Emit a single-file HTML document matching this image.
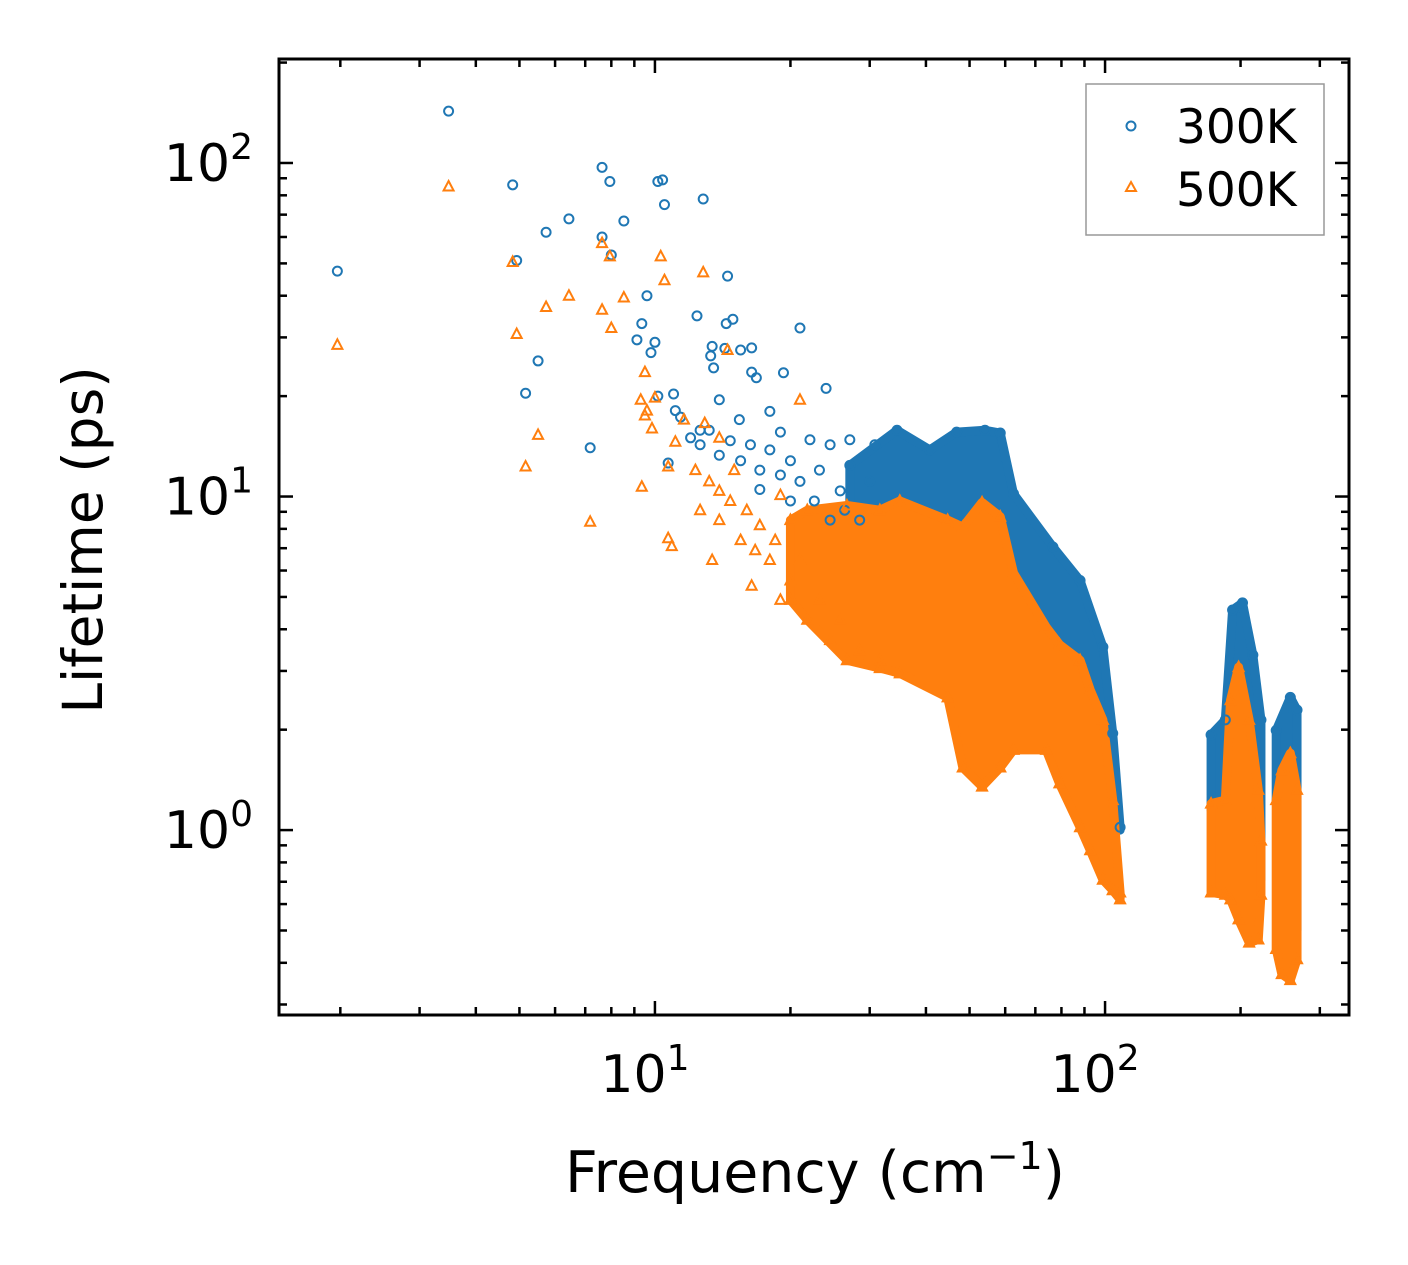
<!DOCTYPE html>
<html><head><meta charset="utf-8"><style>
html,body{margin:0;padding:0;background:#fff}
svg{display:block;font-family:"DejaVu Sans","Liberation Sans",sans-serif}
</style></head><body>
<svg id="chart" width="1408" height="1265" viewBox="0 0 1408 1265" xmlns="http://www.w3.org/2000/svg">
<rect x="0" y="0" width="1408" height="1265" fill="#fff"/>
<g id="bands"></g>
<g id="marks"></g>
<g id="axes"></g>
<g>
<rect x="1086" y="84" width="238" height="151" fill="#fff" fill-opacity="0.8" stroke="#999" stroke-width="1.5"/>
<circle cx="1131" cy="126" r="4.5" fill="none" stroke="#1f77b4" stroke-width="2"/>
<text x="1176" y="143" font-size="47">300K</text>
<polygon points="1131,182 1136,191 1126,191" fill="none" stroke="#ff7f0e" stroke-width="2"/>
<text x="1176" y="206" font-size="47">500K</text>
</g>
<text x="815" y="1192" font-size="57" text-anchor="middle">Frequency (cm<tspan dy="-23" font-size="38">−1</tspan><tspan dy="23">)</tspan></text>
<text transform="translate(102,540) rotate(-90)" font-size="55" text-anchor="middle">Lifetime (ps)</text>
</svg>
<script>
const blueF=[1.97,3.48,4.83,4.93,5.16,5.5,5.73,6.44,7.18,7.63,7.94,8.0,7.63,8.53,9.12,9.35,9.6,9.8,10,10.15,10.4,10.5,10.15,10.7,11.0,11.1,11.4,12.4,12.8,13.3,13.5,13.4,14.3,14.5,14.4,14.9,15.5,16.4,16.4,16.8,21,24,19.3,18,19,13.9,15.4,12,12.6,
12.6,13.2,13.9,14.7,15.5,16.3,17.1,18,19,20,21,22.1,23.2,24.5,25.8,22.6,24.5,26.4,17.1,20,27.1,30.8,30,28.5];
const blueL=[47.4,143,86,51,20.4,25.5,62,68,14,97,88,53,60,67,29.5,33,40,27,29,88,89,75,20,12.6,20.3,18.1,17.3,34.8,78,26.4,24.3,28.2,27.8,45.8,33,34,27.5,27.9,23.6,22.7,32,21.1,23.5,18,15.6,19.5,17,15,15.8,
14.3,15.8,13.3,14.7,12.8,14.3,12.0,13.8,11.6,12.8,11.1,14.8,12.0,14.3,10.4,9.7,8.5,9.1,10.5,9.7,14.8,14.3,11.1,8.5];
const orangeF=[1.97,3.48,4.83,4.93,5.16,5.5,5.73,6.44,7.18,7.63,7.94,8.0,7.63,8.53,9.3,9.5,9.6,9.85,9.35,9.5,10.3,10.5,10.7,10.7,10.9,11.1,11.6,12.8,13.4,12.9,13.9,14.5,13.9,16.4,21,19,10,
12.3,12.6,13.2,13.9,14.7,15.5,16,16.7,17.1,18,18.5,20,21,23.2,25.8,24.5,28.5,31.6,15,19];
const orangeL=[28.5,85,50.5,30.7,12.3,15.3,37,40,8.4,57.5,52.5,32,36.3,39.5,19.5,17.5,18.1,16,10.7,23.6,52.5,44.5,12.3,7.5,7.1,14.6,17,47,6.45,16.6,15,27.5,10.4,5.4,19.5,4.9,19.8,
12,9.1,11.1,8.5,9.7,7.4,9.1,6.9,8.2,6.45,7.4,5.6,6.45,4.9,4.27,3.71,3.46,3.23,12,10.1];
// dense-region envelopes (null separates clusters)
const blueBandF=[27.1,34.5,40.8,46.8,54.1,58.5,62.6,76.6,88,98.9,104,108,null,172,185,192,202,213,222,null,240,258,267];
const blueBandLo=[7.4,4.9,3.7,2.6,2.26,2.6,3.7,2.8,2.14,1.41,1.15,1.0,null,1.15,1.23,1.07,0.87,0.87,0.71,null,1.23,0.62,0.5];
const blueBandHi=[12.4,15.8,13.8,15.6,15.8,15.5,10.2,7.06,5.6,3.54,1.95,1.02,null,1.93,2.14,4.57,4.8,3.35,2.14,null,1.99,2.5,2.29];
const orangeBandF=[20,21.8,26.7,31.6,35,44.7,48.3,53.3,58.5,62.6,74,79.2,88,92.7,98.9,104,108,null,172,185,190,198,209,219,222,null,240,247,258,267];
const orangeBandLo=[4.9,4.27,3.23,3.06,2.95,2.5,1.54,1.35,1.54,1.74,1.74,1.38,1.02,0.87,0.71,0.66,0.62,null,0.65,0.64,0.62,0.54,0.46,0.47,0.64,null,0.44,0.37,0.355,0.41];
const orangeBandHi=[8.5,9.1,9.4,9.1,9.7,8.5,8.1,9.6,8.7,5.9,4.06,3.6,3.23,2.63,2.14,1.23,0.65,null,1.2,1.23,2.45,3.08,2.14,1.32,0.93,null,1.23,1.51,1.7,1.32];
const xTickVals=[10,100];
const yTickVals=[1,10,100];
const xTickExp=['1','2'];
const yTickExp=['0','1','2'];

const L=279,R=1349,T=59,B=1015;
const xmin=Math.log10(1.4615),xmax=Math.log10(348.3),ymin=Math.log10(0.279),ymax=Math.log10(205);
const X=v=>L+(Math.log10(v)-xmin)/(xmax-xmin)*(R-L);
const Y=v=>B-(Math.log10(v)-ymin)/(ymax-ymin)*(B-T);
const NS='http://www.w3.org/2000/svg';
const mk=(t,a,p)=>{const e=document.createElementNS(NS,t);for(const k in a)e.setAttribute(k,a[k]);p.appendChild(e);return e;};
const bands=document.getElementById('bands'),marks=document.getElementById('marks'),axes=document.getElementById('axes');

function drawBand(F,Lo,Hi,color,name){
  let seg=[];const segs=[];
  F.forEach((f,i)=>{if(f===null){segs.push(seg);seg=[];}else seg.push(i);});
  segs.push(seg);
  segs.forEach((s,k)=>{
    const pts=s.map(i=>X(F[i])+','+Y(Hi[i])).concat(s.slice().reverse().map(i=>X(F[i])+','+Y(Lo[i])));
    const p=mk('polygon',{points:pts.join(' '),fill:color,stroke:color,'stroke-width':9,'stroke-linejoin':'round'},bands);
    
    
  });
}
function circ(f,l,name){
  const c=mk('circle',{cx:X(f),cy:Y(l),r:4.5,fill:'none',stroke:'#1f77b4','stroke-width':2},marks);
  
  
}
function tri(f,l,name){
  const x=X(f),y=Y(l);
  const t=mk('polygon',{points:`${x},${y-5.5} ${x+5},${y+4} ${x-5},${y+4}`,fill:'none',stroke:'#ff7f0e','stroke-width':2},marks);
  
  
}
drawBand(blueBandF,blueBandLo,blueBandHi,'#1f77b4','band-300k');
blueF.forEach((f,i)=>circ(f,blueL[i],'point-300k'));
blueBandF.forEach((f,i)=>{if(f!==null){circ(f,blueBandHi[i],'point-300k');}});
drawBand(orangeBandF,orangeBandLo,orangeBandHi,'#ff7f0e','band-500k');
orangeF.forEach((f,i)=>tri(f,orangeL[i],'point-500k'));
orangeBandF.forEach((f,i)=>{if(f!==null){tri(f,orangeBandHi[i],'point-500k');tri(f,orangeBandLo[i],'point-500k');}});

const fr=mk('rect',{x:L,y:T,width:R-L,height:B-T,fill:'none',stroke:'#000','stroke-width':3},axes);


function tick(x1,y1,x2,y2){const t=mk('line',{x1,y1,x2,y2,stroke:'#000','stroke-width':2.5},axes);

}
for(let d=0;d<=2;d++)for(let m=1;m<=9;m++){const v=m*Math.pow(10,d);const x=X(v);if(x<L||x>R)continue;const len=m===1?14:8;tick(x,B,x,B-len);tick(x,T,x,T+len);}
for(let d=-1;d<=2;d++)for(let m=1;m<=9;m++){const v=m*Math.pow(10,d);const y=Y(v);if(y<T||y>B)continue;const len=m===1?14:8;tick(L,y,L+len,y);tick(R,y,R-len,y);}
xTickVals.forEach((v,i)=>{const t=mk('text',{x:X(v)-10,y:1092,'font-size':52,'text-anchor':'middle'},axes);t.textContent='10';


const s=mk('tspan',{dy:-22,'font-size':36},t);s.textContent=xTickExp[i];});
yTickVals.forEach((v,i)=>{const t=mk('text',{x:253,y:Y(v)+18,'font-size':52,'text-anchor':'end'},axes);t.textContent='10';


const s=mk('tspan',{dy:-22,'font-size':36},t);s.textContent=yTickExp[i];});
</script>
</body></html>
